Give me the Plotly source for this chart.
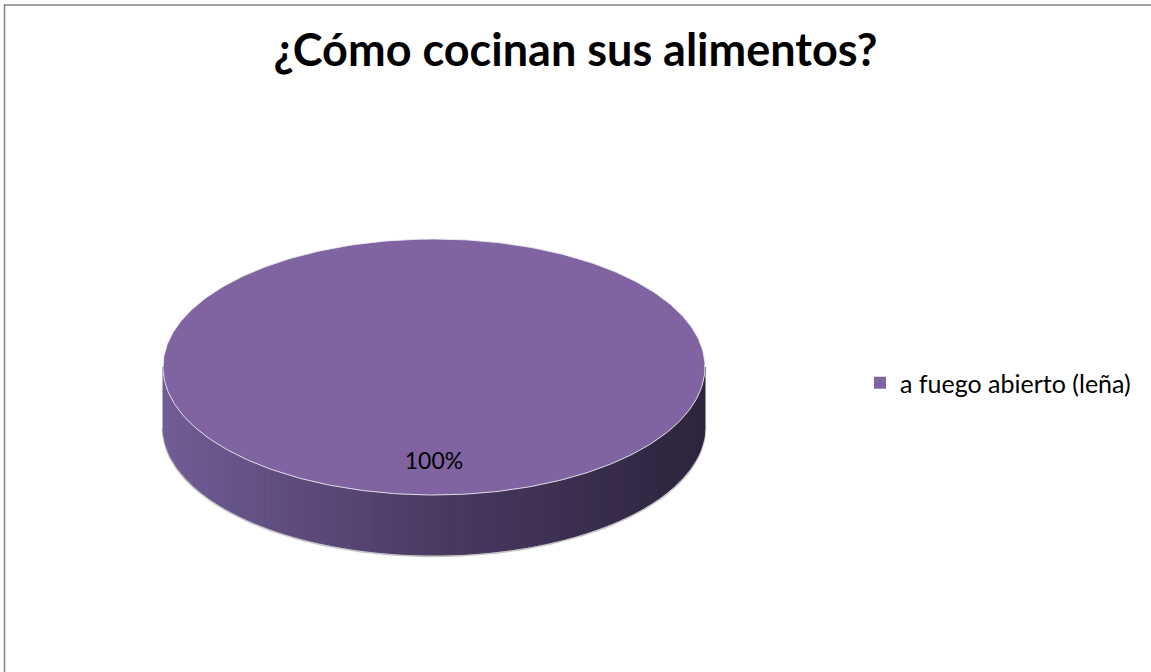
import numpy as np
import plotly.graph_objects as go

# ---- data ----
title_text = "¿Cómo cocinan sus alimentos?"
labels = ["a fuego abierto (leña)"]
values = [100]
colors = ["#8064A2"]

# ---- geometry of the 3D pie (layout) ----
W, H = 1151, 672
CX, CY = 434, 367
RX, RY = 271, 128
DEPTH = 60
LABEL_R = 0.75
N_STRIPS = 70
FONT = "Lato, Carlito, Calibri, sans-serif"

def lerp_color(stops, f):
    for (f0, c0), (f1, c1) in zip(stops[:-1], stops[1:]):
        if f <= f1:
            t = 0 if f1 == f0 else (f - f0) / (f1 - f0)
            c = [int(round(a + (b - a) * t)) for a, b in zip(c0, c1)]
            return "rgb(%d,%d,%d)" % tuple(c)
    return "rgb(%d,%d,%d)" % tuple(stops[-1][1])

side_stops = [(0.0, (114, 92, 150)), (0.5, (74, 58, 98)), (1.0, (45, 36, 60))]

def pt(theta, r=1.0, dy=0.0):
    # theta measured clockwise from 12 o'clock (screen coords, y down)
    return CX + r * RX * np.sin(theta), CY - r * RY * np.cos(theta) + dy

def theta_front(x):
    # front-half angle whose projected x equals x
    return np.pi - np.arcsin(np.clip((x - CX) / RX, -1, 1))

fig = go.Figure()

total = float(sum(values))
start = 0.0
slices = []
for lab, v, col in zip(labels, values, colors):
    span = 2 * np.pi * v / total
    slices.append((lab, v, col, start, start + span))
    start += span

# side walls (front half: theta in [pi/2, 3pi/2])
for lab, v, col, a0, a1 in slices:
    lo, hi = max(a0, np.pi / 2), min(a1, 3 * np.pi / 2)
    if hi <= lo:
        continue
    # soft shadow edge along the bottom
    tb = np.linspace(lo, hi, 200)
    xb, yb = pt(tb, dy=DEPTH + 1)
    fig.add_trace(go.Scatter(x=xb, y=yb, mode="lines",
                             line=dict(color="rgba(150,150,150,0.55)", width=2.5),
                             hoverinfo="skip", showlegend=False))
    x_left, _ = pt(hi)
    x_right, _ = pt(lo)
    xedges = np.linspace(x_left, x_right, N_STRIPS + 1)
    for xa, xb_ in zip(xedges[:-1], xedges[1:]):
        ts = np.linspace(theta_front(xa), theta_front(xb_), 8)
        xs_top, ys_top = pt(ts)
        xs_bot, ys_bot = pt(ts[::-1], dy=DEPTH)
        xs = np.concatenate([xs_top, xs_bot, xs_top[:1]])
        ys = np.concatenate([ys_top, ys_bot, ys_top[:1]])
        f = ((xa + xb_) / 2 - (CX - RX)) / (2 * RX)
        c = lerp_color(side_stops, f)
        fig.add_trace(go.Scatter(x=xs, y=ys, mode="lines", fill="toself",
                                 fillcolor=c, line=dict(color=c, width=1),
                                 hoverinfo="skip", showlegend=False))

# top faces
for lab, v, col, a0, a1 in slices:
    ts = np.linspace(a0, a1, 400)
    xs, ys = pt(ts)
    if a1 - a0 < 2 * np.pi - 1e-9:
        xs = np.concatenate([[CX], xs, [CX]])
        ys = np.concatenate([[CY], ys, [CY]])
    fig.add_trace(go.Scatter(x=xs, y=ys, mode="lines", fill="toself",
                             fillcolor=col,
                             line=dict(color="rgba(235,235,240,0.9)", width=1),
                             hoverinfo="skip", showlegend=False))

# labels
for lab, v, col, a0, a1 in slices:
    mid = (a0 + a1) / 2
    lx, ly = pt(mid, r=LABEL_R)
    fig.add_trace(go.Scatter(x=[lx], y=[ly], mode="text",
                             text=["%d%%" % round(100 * v / total)],
                             textfont=dict(family=FONT, size=23, color="#000000"),
                             hoverinfo="skip", showlegend=False))

# legend entries
for lab, v, col, a0, a1 in slices:
    fig.add_trace(go.Scatter(x=[None], y=[None], mode="markers", name=lab,
                             marker=dict(symbol="square", size=12, color=col),
                             showlegend=True))

fig.add_shape(type="rect", xref="x", yref="y", x0=4.5, y0=5, x1=W + 20, y1=H + 20,
              line=dict(color="#878787", width=1.6), fillcolor="rgba(0,0,0,0)",
              layer="above")

fig.update_layout(
    width=W, height=H,
    margin=dict(l=0, r=0, t=0, b=0),
    paper_bgcolor="white", plot_bgcolor="white",
    title=dict(text="<b>%s</b>" % title_text, x=0.5, xanchor="center",
               y=1 - 50 / H, yanchor="middle",
               font=dict(family=FONT, size=45, color="#000000")),
    xaxis=dict(range=[0, W], visible=False, fixedrange=True),
    yaxis=dict(range=[H, 0], visible=False, fixedrange=True),
    showlegend=True,
    legend=dict(x=860 / W, xanchor="left", y=1 - 383 / H, yanchor="middle",
                font=dict(family=FONT, size=25, color="#000000"),
                bgcolor="rgba(0,0,0,0)", itemwidth=30),
)

fig.write_html("out.html", config={"displayModeBar": False},
               post_script="document.body.style.margin='0';document.body.style.overflow='hidden';")
